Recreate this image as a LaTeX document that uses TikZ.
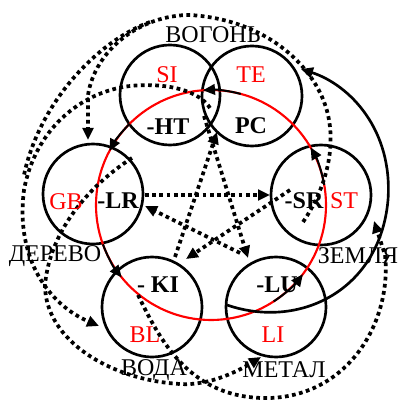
\documentclass[tikz,border=0pt]{standalone}
\usepackage{fontspec}
\setmainfont{Liberation Serif}
\usetikzlibrary{arrows.meta}
\begin{document}
\begin{tikzpicture}[x=0.75pt,y=-0.75pt,
  organ/.style={circle,draw=black,line width=2pt,minimum size=75pt,inner sep=0pt},
  yang/.style={text=red,font=\fontsize{18}{20}\selectfont},
  yin/.style={text=black,font=\bfseries\fontsize{18}{20}\selectfont},
  elem/.style={text=black,font=\fontsize{18}{20}\selectfont},
  dots/.style={line width=2.8pt,dash pattern=on 2.8pt off 2.6pt},
  tip/.style={-{Triangle[length=9pt,width=8pt]}},
  sheng/.style={line width=1.5pt,tip}]
\useasboundingbox (0,0) rectangle (400,402);
% element circles
\node[organ] (si) at (170,95) {};
\node[organ] (te) at (252,96) {};
\node[organ] (gb) at (93,194) {};
\node[organ] (st) at (321,195) {};
\node[organ] (bl) at (152,307) {};
\node[organ] (li) at (276,307) {};
% red generating circle
\coordinate (c) at (211,205);
\draw[red,line width=1.6pt] (c) circle[radius=115];
% black arrows on the red circle
\draw[sheng] ([shift={(160:115)}]c) arc[start angle=160,end angle=141,radius=115];
\draw[sheng] ([shift={(57:115)}]c) arc[start angle=57,end angle=37,radius=115];
\draw[sheng] ([shift={(-10:115)}]c) arc[start angle=-10,end angle=-30,radius=115];
\draw[sheng] ([shift={(-75:115)}]c) arc[start angle=-75,end angle=-94,radius=115];
\draw[sheng] ([shift={(-135:115)}]c) arc[start angle=-135,end angle=-152,radius=115];
% pentagram (controlling) dotted arrows
\coordinate (a1) at (145,195); \coordinate (a2) at (270,195);
\draw[dots,tip] (a1) -- (a2);
\coordinate (b1) at (175,257); \coordinate (b2) at (217,132);
\draw[dots,tip] (b1) -- (b2);
\coordinate (c1) at (204,116); \coordinate (c2) at (248,258);
\draw[dots,tip] (c1) -- (c2);
\coordinate (d1) at (240,253); \coordinate (d2) at (145,206);
\draw[dots,tip] (d1) -- (d2);
\coordinate (e1) at (290,190); \coordinate (e2) at (186,259);
\draw[dots,tip] (e1) -- (e2);
% outer dotted curves
% earth -> wood, over the top
\coordinate (al1) at (303,222); \coordinate (al2) at (88,140);
\draw[dots,tip] (al1) .. controls (325,190) and (336,150) .. (328,115)
  .. controls (318,70) and (270,20) .. (190,15)
  .. controls (140,15) and (95,50) .. (88,95) -- (al2);
% outermost left arc
\coordinate (g1) at (150,22); \coordinate (g2) at (24,175);
\draw[dots] (g1) .. controls (100,40) and (40,100) .. (g2);
% fire -> water, round the left
\coordinate (be1) at (210,108); \coordinate (be2) at (99,326);
\draw[dots,tip] (be1) .. controls (200,92) and (170,82) .. (130,86)
  .. controls (80,92) and (35,130) .. (24,190)
  .. controls (15,260) and (50,305) .. (be2);
% wood -> metal, round the bottom left
\coordinate (ga1) at (132,158); \coordinate (ga2) at (261,357);
\draw[dots,tip] (ga1) .. controls (90,185) and (50,230) .. (45,285)
  .. controls (45,340) and (110,380) .. (180,384)
  .. controls (210,386) and (240,370) .. (ga2);
% water -> earth, round the bottom right
\coordinate (de1) at (138,295); \coordinate (de2) at (374,221);
\draw[dots,tip] (de1) .. controls (160,340) and (190,400) .. (270,398)
  .. controls (350,395) and (392,320) .. (385,255) -- (de2);
% solid arrow metal -> fire
\coordinate (u1) at (227,305); \coordinate (u2) at (301,69);
\draw[line width=2pt,tip] (u1) .. controls (300,330) and (380,290) .. (388,200)
  .. controls (393,130) and (350,85) .. (u2);
% labels
\node[elem] (lf) at (213,35) {ВОГОНЬ};
\node[elem] (lw) at (55,256) {ДЕРЕВО};
\node[elem] (le) at (358,256) {ЗЕМЛЯ};
\node[elem] (lwa) at (154,370) {ВОДА};
\node[elem] (lm) at (284,370) {МЕТАЛ};
\node[yang] (tsi) at (167,75) {SI};
\node[yang] (tte) at (251,75) {TE};
\node[yang] (tgb) at (66,202) {GB};
\node[yang] (tst) at (344,201) {ST};
\node[yang] (tbl) at (145,335) {BL};
\node[yang] (tli) at (273,335) {LI};
\node[yin] (tht) at (168,127) {-HT};
\node[yin] (tpc) at (251,126) {PC};
\node[yin] (tlr) at (118,201) {-LR};
\node[yin] (tsr) at (304,201) {-SR};
\node[yin] (tki) at (158,285) {- KI};
\node[yin] (tlu) at (277,285) {-LU};
\end{tikzpicture}
\end{document}
